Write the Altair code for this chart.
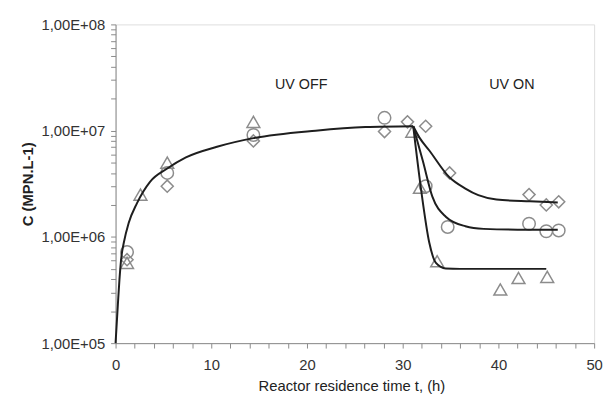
import altair as alt
import pandas as pd

tri_t = [1.2, 2.6, 5.4, 14.4, 31.0, 31.8, 33.6, 40.2, 42.1, 45.1]
tri_c = [5.7e5, 2.5e6, 5.0e6, 1.21e7, 9.8e6, 2.9e6, 5.9e5, 3.2e5, 4.1e5, 4.2e5]

circ_t = [1.2, 5.4, 14.4, 28.1, 32.4, 34.7, 43.2, 45.0, 46.3]
circ_c = [7.2e5, 4.0e6, 9.1e6, 1.32e7, 3.0e6, 1.24e6, 1.33e6, 1.13e6, 1.15e6]

dia_t = [1.2, 5.4, 14.4, 28.1, 30.5, 32.4, 34.9, 43.2, 45.0, 46.3]
dia_c = [6.1e5, 3.0e6, 8.0e6, 9.8e6, 1.21e7, 1.1e7, 4.0e6, 2.5e6, 2.0e6, 2.14e6]

# ---- model curves ----
grow_t = [0, 0.24, 0.41, 0.62, 0.86, 1.37, 2.23, 3.6, 5.4, 7.35, 10.6, 14.4, 20.9, 26.1, 31.1]
grow_c = [1e5, 2.3e5, 4.0e5, 6.6e5, 8.8e5, 1.35e6, 2.07e6, 3.3e6, 4.4e6, 5.6e6, 7.05e6, 8.5e6, 1.0e7, 1.08e7, 1.1e7]

up_t = [31.1, 31.75, 32.78, 34.85, 36.55, 37.9, 39.8, 43.3, 46.2]
up_c = [1.1e7, 8.6e6, 6.5e6, 3.66e6, 2.85e6, 2.47e6, 2.25e6, 2.16e6, 2.11e6]

mid_t = [31.1, 32.1, 33.1, 34.5, 36.55, 38.45, 42.0, 46.2]
mid_c = [1.1e7, 5.2e6, 2.39e6, 1.55e6, 1.26e6, 1.19e6, 1.17e6, 1.17e6]

low_t = [31.1, 31.93, 32.78, 33.47, 34.5, 36.0, 45.0]
low_c = [1.1e7, 2.75e6, 8.8e5, 5.7e5, 5.05e5, 5.0e5, 5.0e5]

ann_t = [19.4, 41.4]
ann_c = [2.7e7, 2.7e7]
ann_text = ["UV OFF", "UV ON"]

y_ticks = [k * 10 ** e for e in (5, 6, 7) for k in range(1, 10)] + [1e8]
x_ticks = list(range(0, 51, 2))

FONT = "Liberation Sans"

pts = pd.concat([
    pd.DataFrame({"t": tri_t, "c": tri_c, "s": "tri"}),
    pd.DataFrame({"t": circ_t, "c": circ_c, "s": "circ"}),
    pd.DataFrame({"t": dia_t, "c": dia_c, "s": "dia"}),
])
curves = pd.concat([
    pd.DataFrame({"t": grow_t, "c": grow_c, "k": "grow"}),
    pd.DataFrame({"t": up_t, "c": up_c, "k": "up"}),
    pd.DataFrame({"t": mid_t, "c": mid_c, "k": "mid"}),
    pd.DataFrame({"t": low_t, "c": low_c, "k": "low"}),
])
ann = pd.DataFrame({"t": ann_t, "c": ann_c, "txt": ann_text})

x_axis = alt.Axis(values=x_ticks,
                  labelExpr="datum.value % 10 == 0 ? datum.label : ''",
                  labelFlush=False, labelOverlap=False,
                  title="Reactor residence time t, (h)",
                  titleX=239, titleY=43, titleBaseline="middle",
                  titleFontWeight="normal", titleFontSize=15,
                  labelFontSize=15, labelPadding=10, grid=False,
                  tickSize=5, tickColor="#8a8a8a", domainColor="#8a8a8a",
                  labelColor="#333333", titleColor="#222222",
                  labelFont=FONT, titleFont=FONT)
y_axis = alt.Axis(values=y_ticks,
                  labelExpr="abs(log(datum.value)/LN10 - round(log(datum.value)/LN10)) < 0.001 ? '1,00E+0' + round(log(datum.value)/LN10) : ''",
                  labelOverlap=False, labelFlush=False,
                  title="C (MPN.L-1)",
                  titleX=-89, titleY=161.5, titleBaseline="middle", titleAngle=270,
                  titleFontWeight="bold", titleFontSize=15,
                  labelFontSize=15, labelPadding=6, grid=False,
                  tickSize=5, tickColor="#8a8a8a", domainColor="#8a8a8a",
                  labelColor="#333333", titleColor="#222222",
                  labelFont=FONT, titleFont=FONT)

xs = alt.Scale(domain=[0, 50], nice=False)
ys = alt.Scale(type="log", domain=[1e5, 1e8], nice=False)


def X():
    return alt.X("t:Q", scale=xs, axis=x_axis)


def Y():
    return alt.Y("c:Q", scale=ys, axis=y_axis)


marks = alt.Chart(pts).mark_point(filled=False, strokeWidth=1.5, color="#8c8c8c", opacity=1).encode(
    x=X(), y=Y(),
    shape=alt.Shape("s:N", scale=alt.Scale(domain=["tri", "circ", "dia"],
                                           range=["triangle-up", "circle", "diamond"]), legend=None),
    size=alt.Size("s:N", scale=alt.Scale(domain=["tri", "circ", "dia"], range=[170, 150, 130]), legend=None),
)

lines = alt.Chart(curves).mark_line(color="#1e1e1e", strokeWidth=2, interpolate="monotone").encode(
    x=X(), y=Y(), detail="k:N", order="t:Q")

texts = alt.Chart(ann).mark_text(fontSize=14.5, font=FONT, color="#222222").encode(
    x=X(), y=Y(), text="txt:N")

chart = alt.layer(marks, lines, texts).properties(
    width=485, height=323,
    padding={"left": 109, "top": 14, "right": 10, "bottom": 55},
    autosize=alt.AutoSizeParams(type="none"),
).configure_view(stroke="#8a8a8a", strokeWidth=1.5).configure(background="white")

chart.save("out.html", embed_options={"renderer": "svg", "actions": False})
